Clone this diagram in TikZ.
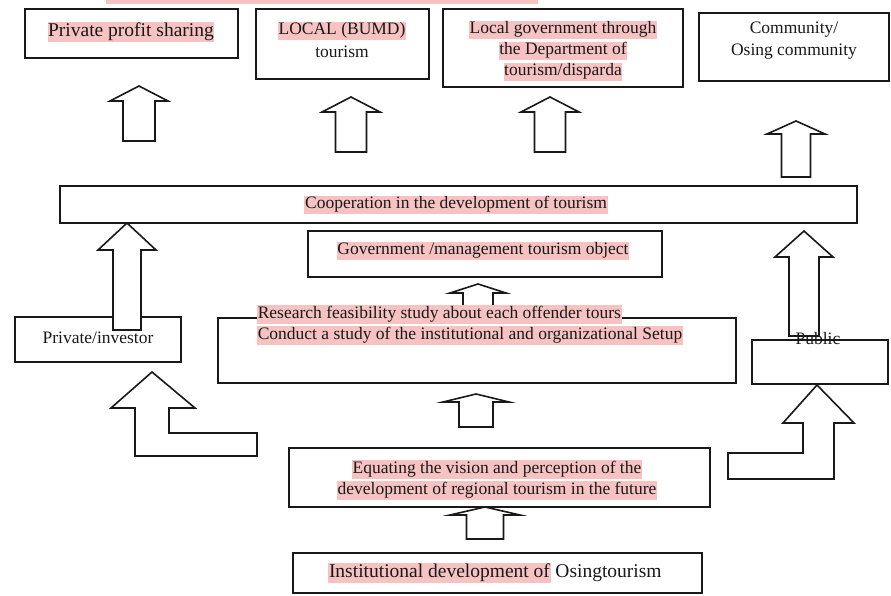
\documentclass[tikz,border=0pt]{standalone}
\usepackage{fontspec}
\setmainfont{Liberation Serif}
\usetikzlibrary{fit}
\definecolor{hl}{RGB}{246,194,194}
\definecolor{ink}{RGB}{25,25,25}
\newcommand\hlbox[1]{{\setlength\fboxsep{0.6pt}\colorbox{hl}{\rule[-0.27em]{0pt}{0.98em}#1}}}
% cx, tip y, head base y, bottom y, head half width, shaft half width
\newcommand\UpArr[6]{\draw[blk] (#1,#2) -- (#1+#5,#3) -- (#1+#6,#3) -- (#1+#6,#4) -- (#1-#6,#4) -- (#1-#6,#3) -- (#1-#5,#3) -- cycle;}
\tikzset{
  box/.style={draw=ink, line width=1.6pt, inner sep=0pt},
  blk/.style={draw=ink, line width=1.6pt, fill=white, line join=miter},
  txt/.style={inner sep=0pt, align=center, text=ink},
  big/.style={font=\fontsize{19.5}{23}\selectfont}
}
\begin{document}
\begin{tikzpicture}[x=1pt, y=-1pt, font=\fontsize{17.5}{21}\selectfont]
\useasboundingbox (0,0) rectangle (891,596);
\fill[white] (0,0) rectangle (891,596);
\fill[hl] (106,0) rectangle (538,4);
% boxes
\node[box, fit={(25,9) (238,58)}] (profit) {};
\node[box, fit={(256,9) (429,79)}] (local) {};
\node[box, fit={(443,9) (683,87)}] (govt) {};
\node[box, fit={(699,13) (889,81)}] (comm) {};
\node[box, fit={(60,186) (857,223)}] (coop) {};
\node[box, fit={(308,231) (662,277)}] (govobj) {};
\node[box, fit={(15,317) (181,362)}] (priv) {};
\node[box, fit={(218,318) (736,383)}] (study) {};
\node[box, fit={(752,340) (888,384)}] (pub) {};
\node[box, fit={(289,448) (710,507)}] (equ) {};
\node[box, fit={(293,553) (702,593)}] (inst) {};
% block arrows
\UpArr{139}{86}{101}{141}{29}{16}
\UpArr{351}{97}{112}{152}{29}{15.5}
\UpArr{550}{97}{112}{152}{29}{15.5}
\UpArr{796}{121}{134}{177}{29}{14.5}
\UpArr{127}{223}{250}{330}{29}{14}
\UpArr{804}{231}{257}{336}{29}{15}
\UpArr{478}{284}{293}{312}{28}{15}
\UpArr{476}{394}{402}{427}{33}{17}
\UpArr{485}{507}{515}{539}{35}{18.5}
\draw[blk] (152,372) -- (195,408) -- (169,408) -- (169,433) -- (257,433) -- (257,456) -- (135,456) -- (135,408) -- (111,408) -- cycle;
\draw[blk] (817,385) -- (854,423) -- (834,423) -- (834,479) -- (728,479) -- (728,453) -- (803,453) -- (803,423) -- (783,423) -- cycle;
% texts
\node[txt, big] (tprofit) at (131,32) {\hlbox{Private profit sharing}};
\node[txt, font=\fontsize{17.5}{23}\selectfont] (tlocal) at (342,40) {\hlbox{LOCAL (BUMD)}\\tourism};
\node[txt] (tgov) at (563,51) {\hlbox{Local government through}\\\hlbox{the Department of}\\\hlbox{tourism/disparda}};
\node[txt, font=\fontsize{17.5}{22}\selectfont] (tcomm) at (794,41) {Community/\\Osing community};
\node[txt] (tcoop) at (456,205) {\hlbox{Cooperation in the development of tourism}};
\node[txt] (tgovobj) at (483,251) {\hlbox{Government /management tourism object}};
\node[txt] (tpriv) at (98,338) {Private/investor};
\node[txt, anchor=west, align=left] (tstudy) at (257,325) {\hlbox{Research feasibility study about each offender tours}\\\hlbox{Conduct a study of the institutional and organizational Setup}};
\node[txt] (tpub) at (818,339) {Public};
\node[txt] (tequ) at (497,480) {\hlbox{Equating the vision and perception of the}\\\hlbox{development of regional tourism in the future}};
\node[txt, big] (tinst) at (495,573) {\hlbox{Institutional development of} Osingtourism};
\end{tikzpicture}
\end{document}
